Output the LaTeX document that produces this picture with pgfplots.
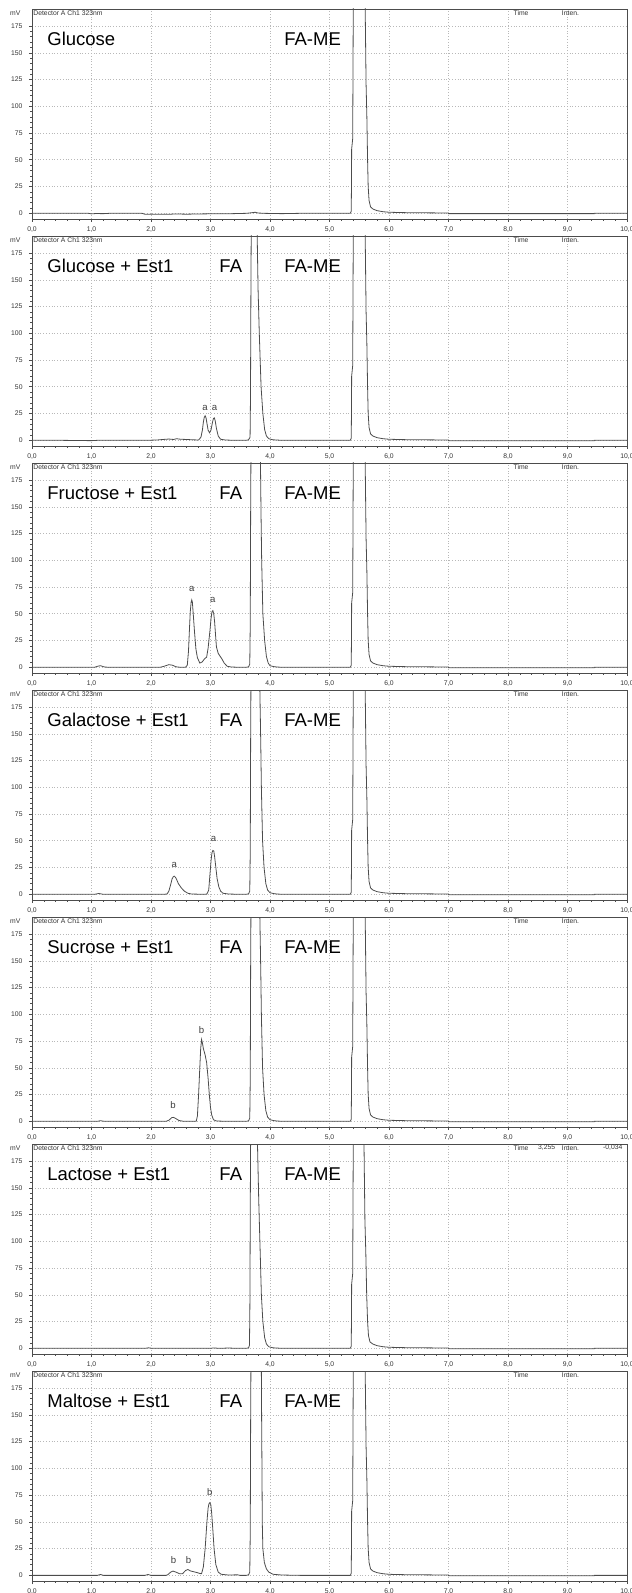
\documentclass[border=0pt]{standalone}
\usepackage{pgfplots}
\pgfplotsset{compat=1.18}
\usepackage{fontspec}
\setmainfont{Liberation Sans}
\newcommand{\biglab}{\fontsize{9.25}{10}\selectfont}
\newcommand{\tinylab}{\fontsize{3.4}{4}\selectfont}
\newcommand{\pklab}{\fontsize{4.8}{5}\selectfont}
\tikzset{pk/.style={font=\pklab, text=black!75, inner sep=0pt}}
\pgfplotsset{
  chrom/.style={
    scale only axis, width=297.5pt, height=105pt, anchor=north west,
    xmin=0, xmax=10, ymin=-5.3, ymax=191,
    xtick={0,1,...,10}, ytick={0,25,...,175},
    minor x tick num=4, minor y tick num=4,
    tick align=outside, major tick length=1.5pt, minor tick length=0.8pt,
    xtick pos=bottom, ytick pos=left,
    grid=major, grid style={densely dotted, black!28, line width=0.35pt},
    axis line style={black!70, line width=0.45pt},
    tick style={black!70, line width=0.35pt},
    clip mode=individual,
    tick label style={font=\tinylab, text=black!80},
    /pgf/number format/assume math mode=true,
    xticklabel style={/pgf/number format/fixed, /pgf/number format/fixed zerofill, /pgf/number format/precision=1, /pgf/number format/use comma, yshift=1.2pt},
    yticklabel style={xshift=0.3pt},
    cycle list={{black!70, line width=0.5pt, line join=round, no markers}},
  },
}
\newcommand{\hdr}{%
  \node[font=\tinylab, text=black!80] at (rel axis cs:-0.028,0.981) {mV};
  \node[font=\tinylab, text=black!80, anchor=west, inner sep=0.5pt] at (rel axis cs:0.0,0.981) {Detector A Ch1 323nm};
}
\newcommand{\tmin}{%
  \node[font=\tinylab, text=black!80] at (rel axis cs:0.822,0.981) {Time};
  \node[font=\tinylab, text=black!80] at (rel axis cs:0.905,0.981) {Inten.};
}
\begin{document}
\begin{tikzpicture}
% ---------- Panel 1: Glucose ----------
\begin{axis}[chrom, at={(0,0)}]
\addplot coordinates {
(0,0) (0.5,0.1) (0.95,0) (1.0,-0.5) (1.07,-0.2) (1.2,-0.3) (1.3,0) (1.85,0) (1.9,-0.9) (2.3,-0.9) (2.4,-0.6) (2.6,-0.8) (2.9,-0.5) (3.3,-0.4) (3.6,0) (3.7,0.6) (3.75,1) (3.8,0.3) (3.9,0) (4.2,-0.3) (4.5,0) (5.3,0)
(5.35,0) (5.365,2) (5.37,30) (5.372,60) (5.39,70) (5.40,200) (5.42,400) (5.50,600) (5.57,400) (5.59,300) (5.60,190) (5.615,120) (5.628,90) (5.64,50) (5.65,25) (5.665,12) (5.69,6) (5.73,4) (5.8,2.5) (5.9,1.5) (6.0,1) (6.3,0.6) (7.0,0.3) (7.0,-0.3) (9.45,-0.3) (9.45,0) (10,0)
};
\hdr \tmin
\node[font=\biglab, anchor=base west] at (axis cs:0.14,156.5) {Glucose};
\node[font=\biglab, anchor=base east] at (axis cs:5.31,156.5) {FA-ME};
\end{axis}
% ---------- Panel 2: Glucose + Est1 ----------
\begin{axis}[chrom, at={(0,-113.5pt)}]
\addplot coordinates {
(0,0) (0.5,0) (1.0,-0.3) (1.1,0) (1.9,0) (2.1,0.3) (2.2,0.8) (2.3,1.2) (2.38,0.8) (2.43,1.5) (2.5,1) (2.6,0.8) (2.7,0.5) (2.80,0.3) (2.84,3) (2.865,10) (2.88,17) (2.895,21.5) (2.91,23) (2.925,21) (2.94,16) (2.96,9.5) (2.985,7) (3.01,10) (3.03,16) (3.05,20.5) (3.065,21) (3.08,18) (3.10,11) (3.13,4) (3.17,1) (3.25,0.3) (3.4,0)
(3.60,0) (3.64,0.5) (3.665,3) (3.672,40) (3.68,150) (3.695,300) (3.74,500) (3.775,300) (3.785,190) (3.80,140) (3.82,100) (3.85,50) (3.88,25) (3.91,10) (3.94,4) (3.98,1.5) (4.05,0.5) (4.2,0) (4.5,0) (5.3,0)
(5.35,0) (5.365,2) (5.37,30) (5.372,60) (5.39,70) (5.40,200) (5.42,400) (5.50,600) (5.57,400) (5.59,300) (5.60,190) (5.615,120) (5.628,90) (5.64,50) (5.65,25) (5.665,12) (5.69,6) (5.73,4) (5.8,2.5) (5.9,1.5) (6.0,1) (6.3,0.6) (7.0,0.3) (7.0,-0.3) (9.45,-0.3) (9.45,0) (10,0)
};
\hdr \tmin
\node[font=\biglab, anchor=base west] at (axis cs:0.14,156.5) {Glucose + Est1};
\node[font=\biglab, anchor=base east] at (axis cs:3.65,156.5) {FA};
\node[font=\biglab, anchor=base east] at (axis cs:5.31,156.5) {FA-ME};
\node[pk] at (axis cs:2.91,30) {a};
\node[pk] at (axis cs:3.07,30) {a};
\end{axis}
% ---------- Panel 3: Fructose + Est1 ----------
\begin{axis}[chrom, at={(0,-227pt)}]
\addplot coordinates {
(0,0) (1.05,0) (1.1,1) (1.15,1.5) (1.22,0.3) (1.3,0) (2.15,0) (2.22,1) (2.3,2.5) (2.36,2) (2.42,0.5) (2.5,0) (2.58,0) (2.61,2) (2.63,15) (2.645,34) (2.66,52) (2.675,61) (2.685,63) (2.695,61) (2.71,50) (2.73,34) (2.755,17) (2.78,9) (2.82,4) (2.86,5) (2.90,8) (2.935,9.5) (2.96,18) (2.99,34) (3.01,46) (3.025,52) (3.04,53) (3.055,50) (3.07,42) (3.085,30) (3.10,19) (3.13,13) (3.16,10.5) (3.19,8) (3.23,4) (3.28,1) (3.35,0.3) (3.5,0)
(3.60,0) (3.64,0.5) (3.66,3) (3.668,40) (3.675,150) (3.69,300) (3.75,500) (3.8,300) (3.84,190) (3.85,140) (3.86,100) (3.88,50) (3.91,25) (3.94,10) (3.97,4) (4.0,1.5) (4.08,0.5) (4.2,0) (4.5,0) (5.3,0)
(5.35,0) (5.365,2) (5.37,30) (5.372,60) (5.39,70) (5.40,200) (5.42,400) (5.50,600) (5.57,400) (5.59,300) (5.60,190) (5.615,120) (5.628,90) (5.64,50) (5.65,25) (5.665,12) (5.69,6) (5.73,4) (5.8,2.5) (5.9,1.5) (6.0,1) (6.3,0.6) (7.0,0.3) (7.0,-0.3) (9.45,-0.3) (9.45,0) (10,0)
};
\hdr \tmin
\node[font=\biglab, anchor=base west] at (axis cs:0.14,156.5) {Fructose + Est1};
\node[font=\biglab, anchor=base east] at (axis cs:3.65,156.5) {FA};
\node[font=\biglab, anchor=base east] at (axis cs:5.31,156.5) {FA-ME};
\node[pk] at (axis cs:2.685,73) {a};
\node[pk] at (axis cs:3.04,63) {a};
\end{axis}
% ---------- Panel 4: Galactose + Est1 ----------
\begin{axis}[chrom, at={(0,-340.5pt)}]
\addplot coordinates {
(0,0) (1.05,0) (1.12,0.8) (1.2,0) (2.2,0) (2.27,0.3) (2.30,3) (2.33,9) (2.355,14.5) (2.375,16.5) (2.39,17) (2.41,16) (2.43,14) (2.46,10) (2.51,6) (2.56,3) (2.62,1) (2.68,0.3) (2.9,0) (2.94,0.3) (2.97,4) (2.99,18) (3.01,32) (3.025,39) (3.04,41) (3.055,40.5) (3.07,35) (3.09,25) (3.11,15) (3.14,7) (3.17,3) (3.21,1) (3.3,0.3) (3.5,0)
(3.60,0) (3.64,0.5) (3.66,3) (3.668,40) (3.675,150) (3.69,300) (3.75,500) (3.8,300) (3.83,190) (3.845,140) (3.855,100) (3.875,50) (3.90,25) (3.93,10) (3.96,4) (4.0,1.5) (4.08,0.5) (4.2,0) (4.5,0) (5.3,0)
(5.35,0) (5.365,2) (5.37,30) (5.372,60) (5.39,70) (5.40,200) (5.42,400) (5.50,600) (5.57,400) (5.59,300) (5.60,190) (5.615,120) (5.628,90) (5.64,50) (5.65,25) (5.665,12) (5.69,6) (5.73,4) (5.8,2.5) (5.9,1.5) (6.0,1) (6.3,0.6) (7.0,0.3) (7.0,-0.3) (9.45,-0.3) (9.45,0) (10,0)
};
\hdr \tmin
\node[font=\biglab, anchor=base west] at (axis cs:0.14,156.5) {Galactose + Est1};
\node[font=\biglab, anchor=base east] at (axis cs:3.65,156.5) {FA};
\node[font=\biglab, anchor=base east] at (axis cs:5.31,156.5) {FA-ME};
\node[pk] at (axis cs:2.39,27.5) {a};
\node[pk] at (axis cs:3.05,51.5) {a};
\end{axis}
% ---------- Panel 5: Sucrose + Est1 ----------
\begin{axis}[chrom, at={(0,-454pt)}]
\addplot coordinates {
(0,0) (1.1,0) (1.15,0.6) (1.22,0) (2.25,0) (2.30,1) (2.35,3.5) (2.38,3.7) (2.42,2.5) (2.47,0.8) (2.55,0) (2.76,0) (2.78,5) (2.80,25) (2.82,50) (2.835,68) (2.85,76.5) (2.865,73) (2.88,68) (2.91,62) (2.935,55) (2.96,40) (2.98,25) (3.00,13) (3.02,6) (3.05,1.5) (3.1,0.3) (3.3,0)
(3.60,0) (3.64,0.5) (3.66,3) (3.668,40) (3.675,150) (3.69,300) (3.75,500) (3.8,300) (3.83,190) (3.845,140) (3.855,100) (3.875,50) (3.90,25) (3.93,10) (3.96,4) (4.0,1.5) (4.08,0.5) (4.2,0) (4.5,0) (5.3,0)
(5.35,0) (5.365,2) (5.37,30) (5.372,60) (5.39,70) (5.40,200) (5.42,400) (5.50,600) (5.57,400) (5.59,300) (5.60,190) (5.615,120) (5.628,90) (5.64,50) (5.65,25) (5.665,12) (5.69,6) (5.73,4) (5.8,2.5) (5.9,1.5) (6.0,1) (6.3,0.6) (7.0,0.3) (7.0,-0.3) (9.45,-0.3) (9.45,0) (10,0)
};
\hdr \tmin
\node[font=\biglab, anchor=base west] at (axis cs:0.14,156.5) {Sucrose + Est1};
\node[font=\biglab, anchor=base east] at (axis cs:3.65,156.5) {FA};
\node[font=\biglab, anchor=base east] at (axis cs:5.31,156.5) {FA-ME};
\node[pk] at (axis cs:2.37,15) {b};
\node[pk] at (axis cs:2.85,85) {b};
\end{axis}
% ---------- Panel 6: Lactose + Est1 ----------
\begin{axis}[chrom, at={(0,-567.5pt)}]
\addplot coordinates {
(0,0) (1.9,0) (1.96,0.5) (2.02,0) (3.0,0) (3.05,0.4) (3.15,0) (3.3,0.3) (3.45,0)
(3.60,0) (3.64,0.5) (3.655,3) (3.662,40) (3.67,150) (3.685,300) (3.74,500) (3.78,300) (3.79,190) (3.81,140) (3.83,100) (3.855,50) (3.88,25) (3.91,10) (3.94,4) (3.98,1.5) (4.05,0.5) (4.2,0) (4.5,0) (5.3,0)
(5.35,0) (5.365,2) (5.37,30) (5.372,60) (5.39,70) (5.40,200) (5.42,400) (5.50,600) (5.55,400) (5.57,300) (5.58,190) (5.595,120) (5.61,90) (5.625,50) (5.64,25) (5.655,12) (5.68,6) (5.73,4) (5.8,2.5) (5.9,1.5) (6.0,1) (6.3,0.6) (7.0,0.3) (7.0,-0.3) (9.45,-0.3) (9.45,0) (10,0)
};
\hdr
\node[font=\tinylab, text=black!80] at (rel axis cs:0.822,0.981) {Time};
\node[font=\tinylab, text=black!80] at (rel axis cs:0.865,0.981) {3,255};
\node[font=\tinylab, text=black!80] at (rel axis cs:0.905,0.981) {Inten.};
\node[font=\tinylab, text=black!80, anchor=east, inner sep=0pt] at (rel axis cs:0.993,0.981) {-0,034};
\node[font=\biglab, anchor=base west] at (axis cs:0.14,156.5) {Lactose + Est1};
\node[font=\biglab, anchor=base east] at (axis cs:3.65,156.5) {FA};
\node[font=\biglab, anchor=base east] at (axis cs:5.31,156.5) {FA-ME};
\end{axis}
% ---------- Panel 7: Maltose + Est1 ----------
\begin{axis}[chrom, at={(0,-681pt)}]
\addplot coordinates {
(0,0) (1.1,0) (1.15,0.8) (1.2,0) (1.9,0) (1.95,0.8) (2.0,0) (2.25,0) (2.28,0.5) (2.33,3) (2.37,4) (2.42,3) (2.48,1.5) (2.53,1.5) (2.58,4.5) (2.62,5.5) (2.66,4.2) (2.71,3.5) (2.78,2.5) (2.82,1.8) (2.85,1.5) (2.88,8) (2.91,25) (2.94,50) (2.96,63) (2.975,67) (2.99,68) (3.005,66) (3.02,58) (3.04,42) (3.06,25) (3.09,10) (3.13,3) (3.18,1) (3.3,0.3) (3.45,0.5) (3.5,0)
(3.60,0) (3.64,0.5) (3.66,3) (3.668,40) (3.675,150) (3.69,300) (3.76,500) (3.83,300) (3.855,190) (3.86,140) (3.865,100) (3.87,50) (3.88,25) (3.905,12) (3.94,6) (3.98,3) (4.05,1) (4.2,0.3) (4.5,0) (5.3,0)
(5.35,0) (5.365,2) (5.37,30) (5.372,60) (5.39,70) (5.40,200) (5.42,400) (5.50,600) (5.57,400) (5.59,300) (5.60,190) (5.615,120) (5.628,90) (5.64,50) (5.65,25) (5.665,12) (5.69,6) (5.73,4) (5.8,2.5) (5.9,1.5) (6.0,1) (6.1,0.8) (6.3,0.6) (7.0,0.3) (7.0,-0.3) (9.45,-0.3) (9.45,0) (10,0)
};
\hdr \tmin
\node[font=\biglab, anchor=base west] at (axis cs:0.14,156.5) {Maltose + Est1};
\node[font=\biglab, anchor=base east] at (axis cs:3.65,156.5) {FA};
\node[font=\biglab, anchor=base east] at (axis cs:5.31,156.5) {FA-ME};
\node[pk] at (axis cs:2.38,14) {b};
\node[pk] at (axis cs:2.63,14) {b};
\node[pk] at (axis cs:2.99,78) {b};
\end{axis}
\pgfresetboundingbox
\path[use as bounding box] (-16pt,4.5pt) rectangle (299.5pt,-792pt);
\end{tikzpicture}
\end{document}
